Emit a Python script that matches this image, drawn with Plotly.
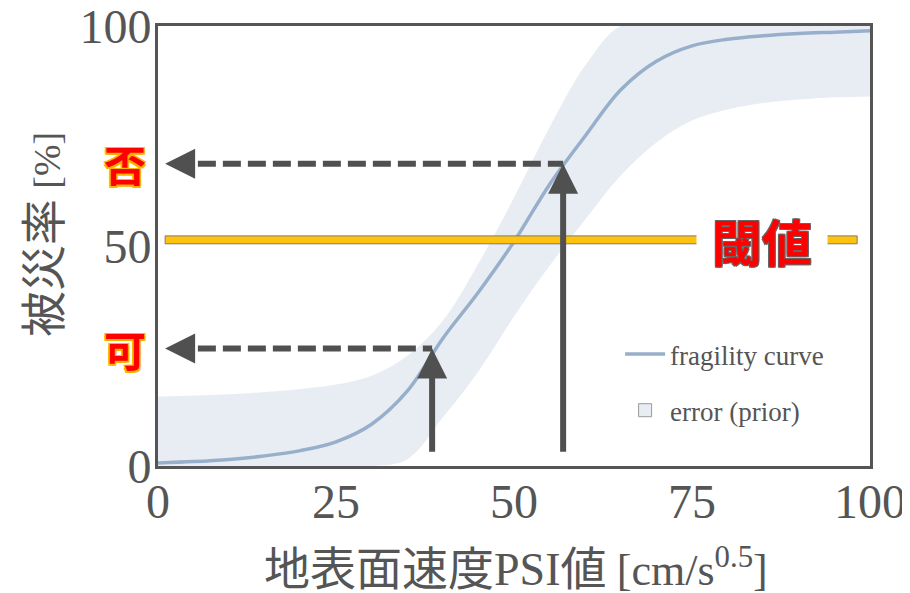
import plotly.graph_objects as go

# ---- data ----
psi = [0, 5, 10, 15, 20, 25, 30, 35, 40, 45, 50, 55, 60, 65, 70, 75, 80, 85, 90, 95, 100]
fragility = [0.7, 1.0, 1.5, 2.3, 3.5, 5.5, 9.5, 17, 29, 39.5, 51, 64, 75, 85.5, 92, 95.5, 97, 97.8, 98.3, 98.6, 98.9]
err_upper = [15.8, 16.0, 16.3, 16.8, 17.5, 18.5, 20.5, 25, 33, 46, 61, 77, 91, 100, 100, 100, 100, 100, 100, 100, 100]
err_lower = [0, 0, 0, 0, 0, 0, 0, 1.5, 11, 21.5, 34, 45.5, 56, 66, 73.5, 78.5, 81, 82.5, 83.3, 83.8, 84.0]

threshold = 51.4
threshold_span = [1.0, 98.2]
probe_psi = [38.5, 56.9]
probe_p = [26.7, 68.7]
probe_labels = ["可", "否"]
arrow_base = 2.9
arrow_left = 1.0

x_ticks = [0, 25, 50, 75, 100]
y_ticks = [0, 50, 100]

GRAY = "#555555"
SERIF = "Liberation Serif"
CJK = "Noto Sans CJK JP"

fig = go.Figure()

fig.add_trace(go.Scatter(x=psi, y=err_lower, mode="lines", line=dict(width=0, shape="spline"),
                         showlegend=False, hoverinfo="skip"))
fig.add_trace(go.Scatter(x=psi, y=err_upper, mode="lines", line=dict(width=0, shape="spline"),
                         fill="tonexty", fillcolor="#E8EDF3", showlegend=False, hoverinfo="skip"))
fig.add_trace(go.Scatter(x=psi, y=fragility, mode="lines", name="fragility curve",
                         line=dict(color="#98AFCB", width=3.5, shape="spline"), legendgroup="a"))
fig.add_trace(go.Scatter(x=[None], y=[None], mode="markers", name="error (prior)",
                         marker=dict(symbol="square", size=13, color="#E8EDF3",
                                     line=dict(color="#9a9a9a", width=1)), legendgroup="b"))

# threshold bar
fig.add_shape(type="rect", xref="x", yref="y", x0=threshold_span[0], x1=threshold_span[1],
              y0=threshold - 0.9, y1=threshold + 0.9, fillcolor="#FFC20E",
              line=dict(color="#7a7a7a", width=1), layer="above")

ARROW = "#505050"
for px, pp, lab in zip(probe_psi, probe_p, probe_labels):
    # vertical solid arrow up to the curve
    fig.add_annotation(x=px, y=pp, ax=px, ay=arrow_base, xref="x", yref="y", axref="x", ayref="y",
                       showarrow=True, arrowhead=2, arrowsize=1, arrowwidth=6, arrowcolor=ARROW, text="")
    # dashed horizontal line
    fig.add_shape(type="line", xref="x", yref="y", x0=arrow_left + 4.6, x1=px, y0=pp, y1=pp,
                  line=dict(color=ARROW, width=6, dash="18px,7px"), layer="above")
    # arrow head at the left
    fig.add_annotation(x=arrow_left, y=pp, ax=arrow_left + 4.0, ay=pp, xref="x", yref="y",
                       axref="x", ayref="y", showarrow=True, arrowhead=2, arrowsize=1,
                       arrowwidth=6, arrowcolor=ARROW, text="")
    # label left of axis
    fig.add_annotation(x=-0.0463, y=pp, xref="paper", yref="y", text=lab, showarrow=False,
                       xanchor="center", yanchor="middle",
                       font=dict(family=CJK, size=42, color="#FF0000", weight="bold",
                                 shadow="1.5px 1.5px 0 #FFB300, -1.5px -1.5px 0 #FFB300, 1.5px -1.5px 0 #FFB300, -1.5px 1.5px 0 #FFB300"))

# threshold label
fig.add_annotation(x=84.8, y=threshold, xref="x", yref="y", text="閾値", showarrow=False,
                   bgcolor="white", width=128, height=58, xanchor="center", yanchor="middle",
                   font=dict(family=CJK, size=50, color="#FF0000", weight="bold",
                             shadow="1px 1px 0 #666, -1px -1px 0 #666, 1px -1px 0 #666, -1px 1px 0 #666"))

# axis titles
fig.add_annotation(xref="paper", yref="paper", x=-0.1657, y=0.525, showarrow=False, textangle=-90,
                   xanchor="center", yanchor="middle",
                   text="被災率 <span style='font-family:Liberation Serif;font-size:38px'>[%]</span>",
                   font=dict(family=CJK, size=46, color=GRAY))
fig.add_annotation(xref="paper", yref="paper", x=0.503, y=-0.225, showarrow=False,
                   xanchor="center", yanchor="middle",
                   text="地表面速度<span style='font-family:Liberation Serif'>PSI</span>値 "
                        "<span style='font-family:Liberation Serif;font-size:44px'>[cm/s<sup>0.5</sup>]</span>",
                   font=dict(family=CJK, size=46, color=GRAY))

fig.update_xaxes(range=[0, 100], tickvals=x_ticks, ticktext=[str(v) for v in x_ticks],
                 showgrid=False, zeroline=False, showline=True, mirror=True, linecolor=GRAY,
                 linewidth=3, ticks="", ticklabelstandoff=-9, automargin=False,
                 ticklabeloverflow="allow",
                 tickfont=dict(family=SERIF, size=48, color=GRAY))
fig.update_yaxes(range=[0, 100], tickvals=y_ticks, ticktext=[str(v) for v in y_ticks],
                 showgrid=False, zeroline=False, showline=True, mirror=True, linecolor=GRAY,
                 linewidth=3, ticks="", ticklabelstandoff=-6, automargin=False,
                 ticklabeloverflow="allow",
                 tickfont=dict(family=SERIF, size=48, color=GRAY))

# the page body adds an 8px offset, so the figure is 8px smaller and margins shifted
fig.update_layout(
    width=902, height=585,
    margin=dict(l=150, r=40, t=18, b=127),
    plot_bgcolor="white", paper_bgcolor="white",
    showlegend=True,
    legend=dict(x=0.649, y=0.309, xanchor="left", yanchor="top", bgcolor="rgba(0,0,0,0)",
                font=dict(family=SERIF, size=27, color=GRAY), tracegroupgap=18, itemwidth=40),
)

fig.write_html("out.html")
